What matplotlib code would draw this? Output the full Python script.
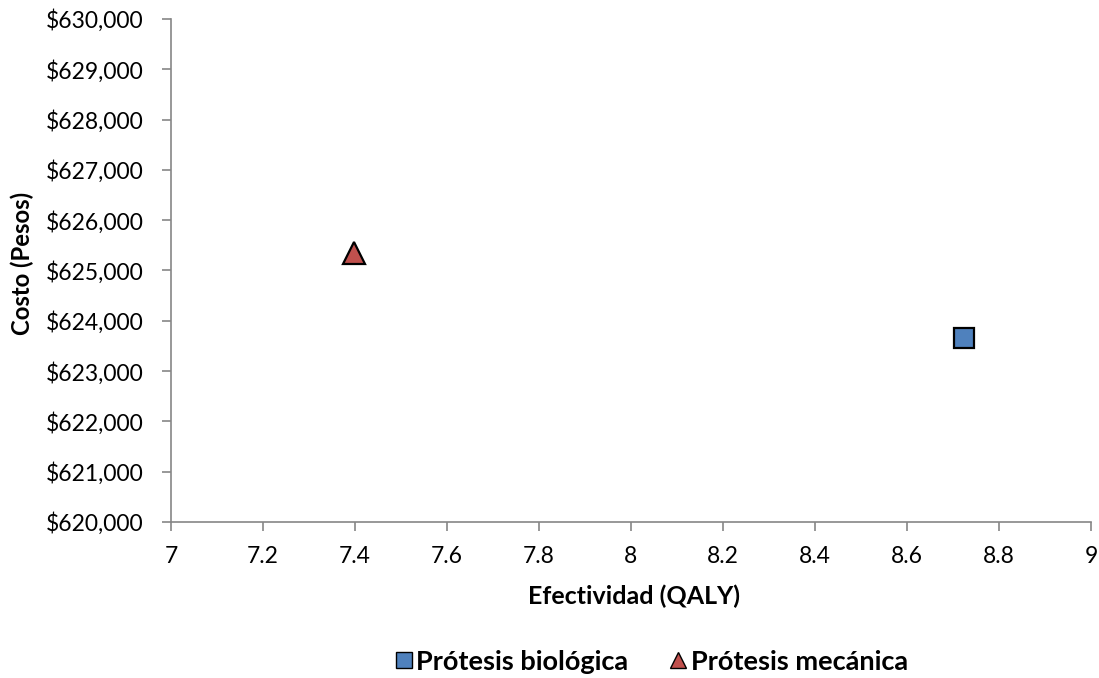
import numpy as np
import matplotlib
matplotlib.use("Agg")
import matplotlib.pyplot as plt
import matplotlib.ticker as ticker

plt.rcParams['font.family'] = ['Lato', 'DejaVu Sans']

# cost-effectiveness points for each valve type
names = ['Prótesis biológica', 'Prótesis mecánica']
qaly = [8.723, 7.397]
costo = [623650, 625350]
colores = ['#4F81BD', '#C0504D']
marcas = ['s', '^']
tamanos = [15, 16.5]
tamanos_leyenda = [12, 11.5]

fig = plt.figure(figsize=(10.99, 6.78), dpi=100)
ax = fig.add_axes([0.1556, 0.2301, 0.8371, 0.7419])

for n, x, y, c, m, s in zip(names, qaly, costo, colores, marcas, tamanos):
    ax.plot([x], [y], linestyle='none', marker=m, markersize=s,
            markerfacecolor=c, markeredgecolor='black', markeredgewidth=1.6,
            label=n, clip_on=False)

ax.set_xlim(7, 9)
ax.set_ylim(620000, 630000)
ax.xaxis.set_major_locator(ticker.MultipleLocator(0.2))
ax.yaxis.set_major_locator(ticker.MultipleLocator(1000))
ax.xaxis.set_major_formatter(ticker.FuncFormatter(lambda v, p: ('%g' % round(v, 1))))
ax.yaxis.set_major_formatter(ticker.FuncFormatter(lambda v, p: '${:,.0f}'.format(v)))

for s in ['top', 'right']:
    ax.spines[s].set_visible(False)
for s in ['left', 'bottom']:
    ax.spines[s].set_color('#868686')
    ax.spines[s].set_linewidth(1.2)
ax.tick_params(axis='both', direction='out', length=6.5, width=1.2, color='#868686',
               labelsize=16.5, labelcolor='black')
ax.tick_params(axis='y', pad=13)
ax.tick_params(axis='x', pad=11)

ax.set_xlabel('Efectividad (QALY)', fontsize=18, fontweight='bold')
ax.set_ylabel('Costo (Pesos)', fontsize=17.2, fontweight='bold')
ax.xaxis.set_label_coords(0.503, -0.125)
ax.yaxis.set_label_coords(-0.149, 0.514)

leg = fig.legend(loc='center', bbox_to_anchor=(0.5924, 0.024), ncol=2, frameon=False,
                 prop={'weight': 'bold', 'size': 19.5},
                 handletextpad=0.1, columnspacing=1.5, handlelength=0.7)
for h, s in zip(leg.legend_handles, tamanos_leyenda):
    h.set_markersize(s)
    h.set_markeredgewidth(1.0)

fig.savefig('out.png', dpi=100)
